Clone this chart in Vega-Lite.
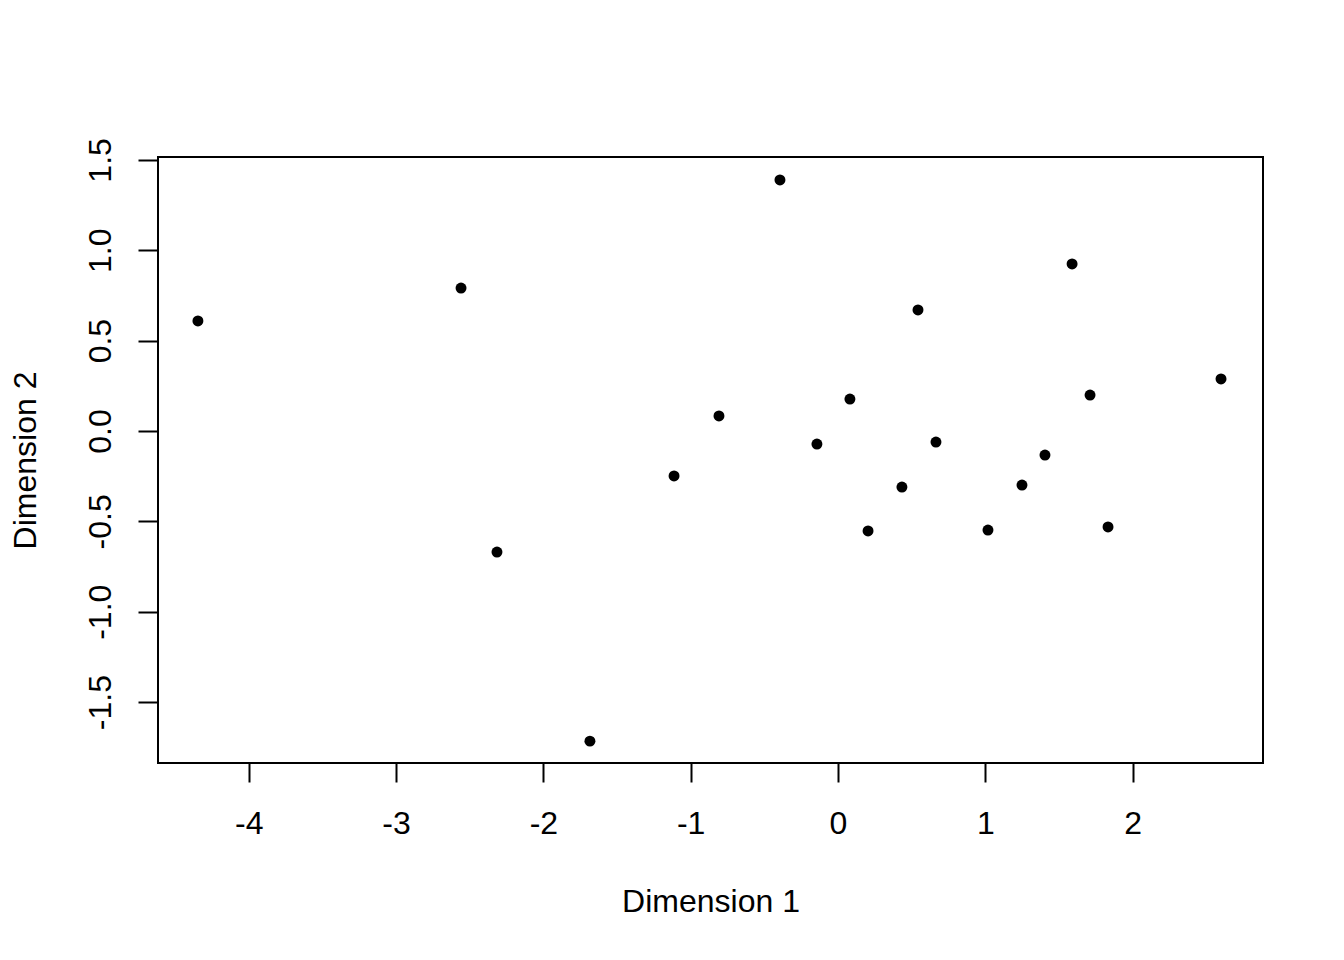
{
  "$schema": "https://vega.github.io/schema/vega-lite/v6.json",
  "width": 1105,
  "height": 606,
  "autosize": "none",
  "padding": {"left": 158, "top": 157, "right": 81, "bottom": 197},
  "background": "white",
  "config": {
    "view": {"stroke": "black", "strokeWidth": 2},
    "font": "Liberation Sans"
  },
  "data": {
    "values": [
      {"d1": -4.345, "d2": 0.609},
      {"d1": -2.559, "d2": 0.791},
      {"d1": -2.315, "d2": -0.670},
      {"d1": -1.684, "d2": -1.716},
      {"d1": -1.113, "d2": -0.249},
      {"d1": -0.808, "d2": 0.083},
      {"d1": -0.394, "d2": 1.389},
      {"d1": -0.143, "d2": -0.072},
      {"d1": 0.081, "d2": 0.177},
      {"d1": 0.204, "d2": -0.553},
      {"d1": 0.434, "d2": -0.310},
      {"d1": 0.543, "d2": 0.670},
      {"d1": 0.665, "d2": -0.061},
      {"d1": 1.018, "d2": -0.548},
      {"d1": 1.249, "d2": -0.299},
      {"d1": 1.405, "d2": -0.133},
      {"d1": 1.589, "d2": 0.924},
      {"d1": 1.711, "d2": 0.199},
      {"d1": 1.833, "d2": -0.531},
      {"d1": 2.600, "d2": 0.288}
    ]
  },
  "mark": {"type": "circle", "color": "black", "opacity": 1, "size": 120},
  "encoding": {
    "x": {
      "field": "d1",
      "type": "quantitative",
      "scale": {"domain": [-4.616, 2.885], "nice": false, "zero": false},
      "axis": {
        "values": [-4, -3, -2, -1, 0, 1, 2],
        "labelExpr": "replace(format(datum.value, 'd'), '\u2212', '-')",
        "domain": false,
        "grid": false,
        "tickSize": 19,
        "tickWidth": 2,
        "tickColor": "black",
        "labelFontSize": 32,
        "labelColor": "black",
        "labelBaseline": "alphabetic",
        "labelAlign": "center",
        "labelPadding": 51,
        "labelFlush": false,
        "labelOverlap": false,
        "title": "Dimension 1",
        "titleFontSize": 32,
        "titleFontWeight": "normal",
        "titleColor": "black",
        "titleBaseline": "alphabetic",
        "titleAlign": "center",
        "titleX": 552.5,
        "titleY": 148
      }
    },
    "y": {
      "field": "d2",
      "type": "quantitative",
      "scale": {"domain": [-1.837, 1.516], "nice": false, "zero": false},
      "axis": {
        "values": [-1.5, -1, -0.5, 0, 0.5, 1, 1.5],
        "labelExpr": "replace(format(datum.value, '.1f'), '\u2212', '-')",
        "domain": false,
        "grid": false,
        "tickSize": 20,
        "tickWidth": 2,
        "tickColor": "black",
        "labelFontSize": 32,
        "labelColor": "black",
        "labelAngle": -90,
        "labelAlign": "center",
        "labelBaseline": "alphabetic",
        "labelPadding": 28,
        "labelFlush": false,
        "labelOverlap": false,
        "title": "Dimension 2",
        "titleFontSize": 32,
        "titleFontWeight": "normal",
        "titleColor": "black",
        "titleAngle": -90,
        "titleAlign": "center",
        "titleBaseline": "alphabetic",
        "titleX": -123,
        "titleY": 303
      }
    }
  }
}
